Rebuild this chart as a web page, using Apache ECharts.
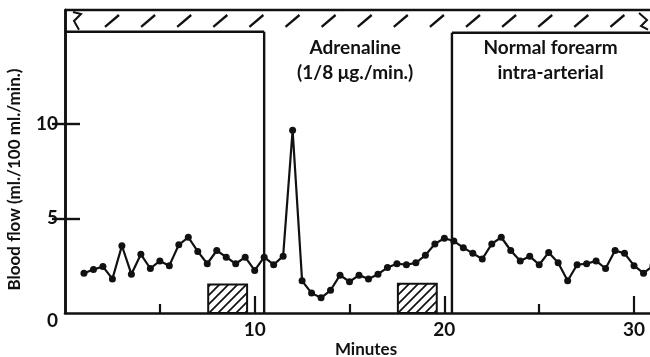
<!DOCTYPE html>
<html><head><meta charset="utf-8">
<script src="https://cdn.jsdelivr.net/npm/echarts@6/dist/echarts.min.js"></script>
<style>html,body{margin:0;padding:0;background:#fff}#c{width:650px;height:357px}</style>
</head><body><div id="c"></div>
<script>
// ---- data ----
const minutes = [1.0,1.5,2.0,2.5,3.0,3.5,4.0,4.5,5.0,5.5,6.0,6.5,7.0,7.5,8.0,8.5,9.0,9.5,10.0,10.5,
  11.0,11.5,12.0,12.5,13.0,13.5,14.0,14.5,15.0,15.5,16.0,16.5,17.0,17.5,18.0,18.5,19.0,19.5,20.0,20.5,
  21.0,21.5,22.0,22.5,23.0,23.5,24.0,24.5,25.0,25.5,26.0,26.5,27.0,27.5,28.0,28.5,29.0,29.5,30.0,30.5,31.0];
const flow = [2.1,2.3,2.45,1.8,3.55,2.05,3.1,2.35,2.75,2.5,3.6,4.0,3.25,2.6,3.3,2.95,2.6,2.95,2.25,2.95,
  2.55,3.0,9.65,1.7,1.05,0.8,1.2,2.0,1.65,2.0,1.8,2.05,2.4,2.6,2.55,2.65,3.05,3.65,3.95,3.8,
  3.45,3.15,2.85,3.65,4.0,3.3,2.75,3.0,2.55,3.2,2.65,1.7,2.55,2.6,2.75,2.35,3.3,3.15,2.5,2.1,2.5];
const hatchStart = [7.55, 17.55];
const hatchEnd = [9.6, 19.6];
const hatchHeight = [1.5, 1.55];
const xTickLabels = [10, 20, 30];
const xMinorTicks = [5, 15, 25];
const yTickLabels = [0, 5, 10];
const yTicks = [5, 10];
const periodBounds = [10.5, 20.4];
const boxTops = [14.85, 14.8];
const annoText = [['Adrenaline', '(1/8 μg./min.)'], ['Normal forearm', 'intra-arterial']];
const annoX = [15.3, 25.6];
const annoY = [14.0, 12.7];

const X_MAX = 31, Y_MAX = 16;
const INK = '#111';
const FONT = 'Lato';

function makeHatch() {
  const c = document.createElement('canvas'); c.width = 9; c.height = 9;
  const g = c.getContext('2d'); g.strokeStyle = INK; g.lineWidth = 1.7;
  g.beginPath();
  g.moveTo(-1, 10); g.lineTo(10, -1);
  g.moveTo(-3, 3); g.lineTo(3, -3);
  g.moveTo(6, 12); g.lineTo(12, 6);
  g.stroke();
  return c;
}
const hatchPattern = {image: makeHatch(), repeat: 'repeat'};

const chart = echarts.init(document.getElementById('c'));

function renderFrame(params, api) {
  const tl = api.coord([0, Y_MAX]);
  const xr = api.coord([X_MAX, Y_MAX])[0];
  const y0 = api.coord([0, 0])[1];
  const yL = api.coord([0, boxTops[0]])[1];
  const yR = api.coord([0, boxTops[1]])[1];
  const xL = api.coord([periodBounds[0], 0])[0];
  const xRb = api.coord([periodBounds[1], 0])[0];
  const ch = [];
  const ln = (x1, y1, x2, y2, w) => ch.push({type: 'line', shape: {x1, y1, x2, y2}, style: {stroke: INK, lineWidth: w || 2.4}});
  ln(tl[0], tl[1], xr, tl[1]);
  ln(tl[0], yL, xL, yL);
  ln(xL, yL, xL, y0);
  ln(xRb, yR, xr, yR);
  ln(xRb, yR, xRb, y0);
  // slashes in the band
  for (let x = tl[0] + 47; x < xr - 30; x += 36.1) {
    ln(x - 7, yL - 5, x + 7, tl[1] + 5, 2.3);
  }
  // break marks
  ch.push({type: 'polyline', shape: {points: [[tl[0]+8, tl[1]+2], [tl[0]+16, tl[1]+4], [tl[0]+9, tl[1]+11], [tl[0]+14, yL-2]]}, style: {stroke: INK, lineWidth: 2, fill: null}});
  ch.push({type: 'polyline', shape: {points: [[xr-14, tl[1]+3], [xr-6, tl[1]+10], [xr-12, tl[1]+16], [xr-5, yR-3]]}, style: {stroke: INK, lineWidth: 2, fill: null}});
  // annotation texts
  annoText.forEach((lines, i) => {
    lines.forEach((t, j) => {
      const p = api.coord([annoX[i], annoY[j]]);
      ch.push({type: 'text', x: p[0], y: p[1], style: {text: t, align: 'center', verticalAlign: 'middle', font: 'bold 19px ' + FONT, fill: INK}});
    });
  });
  return {type: 'group', children: ch};
}

function renderHatch(params, api) {
  const a = api.coord([api.value(0), api.value(2)]);
  const b = api.coord([api.value(1), 0]);
  return {type: 'rect', shape: {x: a[0], y: a[1], width: b[0] - a[0], height: b[1] - a[1]},
    style: {fill: hatchPattern, stroke: INK, lineWidth: 2}};
}

const axisBase = {
  min: 0, splitLine: {show: false}
};

chart.setOption({
  backgroundColor: '#fff',
  animation: false,
  grid: {left: 65, right: -3, top: 10, bottom: 44, containLabel: false, outerBoundsMode: 'none'},
  xAxis: [
    Object.assign({}, axisBase, {
      type: 'value', max: X_MAX, position: 'bottom',
      axisLine: {show: true, lineStyle: {color: INK, width: 2.6}},
      axisTick: {show: true, inside: true, length: 17, customValues: xTickLabels, lineStyle: {color: INK, width: 2.2}},
      axisLabel: {show: true, customValues: xTickLabels, margin: 7, color: INK, fontFamily: FONT, fontWeight: 'bold', fontSize: 19},
      name: 'Minutes', nameLocation: 'middle', nameGap: 28, nameMoveOverlap: false,
      nameTextStyle: {color: INK, fontFamily: FONT, fontWeight: 'bold', fontSize: 17, padding: [0, 0, 0, 14]}
    }),
    Object.assign({}, axisBase, {
      type: 'value', max: X_MAX, position: 'bottom',
      axisLine: {show: false},
      axisTick: {show: true, inside: true, length: 9, customValues: xMinorTicks, lineStyle: {color: INK, width: 2.2}},
      axisLabel: {show: false}
    })
  ],
  yAxis: [
    Object.assign({}, axisBase, {
      type: 'value', max: Y_MAX, position: 'left',
      axisLine: {show: true, lineStyle: {color: INK, width: 2.6}},
      axisTick: {show: true, inside: true, length: 15, customValues: yTicks, lineStyle: {color: INK, width: 2.4}},
      axisLabel: {show: true, customValues: yTickLabels, margin: 7, color: INK, fontFamily: FONT, fontWeight: 'bold', fontSize: 19,
        formatter: v => v === 0 ? '{z|0}' : String(v),
        rich: {z: {padding: [16, 0, 0, 0], color: INK, fontFamily: FONT, fontWeight: 'bold', fontSize: 19}}},
      name: 'Blood flow (ml./100 ml./min.)', nameLocation: 'middle', nameGap: 42, nameRotate: 90, nameMoveOverlap: false,
      nameTextStyle: {color: INK, fontFamily: FONT, fontWeight: 'bold', fontSize: 17, padding: [0, 36, 0, 0]}
    }),
    Object.assign({}, axisBase, {
      type: 'value', max: Y_MAX, position: 'right',
      axisLine: {show: true, lineStyle: {color: INK, width: 2.5}},
      axisTick: {show: true, inside: true, length: 13, customValues: yTicks, lineStyle: {color: INK, width: 2.4}},
      axisLabel: {show: false}
    })
  ],
  series: [
    {type: 'custom', name: 'frame', renderItem: renderFrame, data: [[0]], z: 1, silent: true},
    {type: 'custom', name: 'infusion', renderItem: renderHatch, z: 2, silent: true,
      data: hatchStart.map((s, i) => [s, hatchEnd[i], hatchHeight[i]])},
    {type: 'line', name: 'Blood flow', data: minutes.map((m, i) => [m, flow[i]]), z: 5,
      symbol: 'circle', symbolSize: 7, showSymbol: true,
      itemStyle: {color: INK}, lineStyle: {color: INK, width: 2.2}}
  ]
});
</script></body></html>
